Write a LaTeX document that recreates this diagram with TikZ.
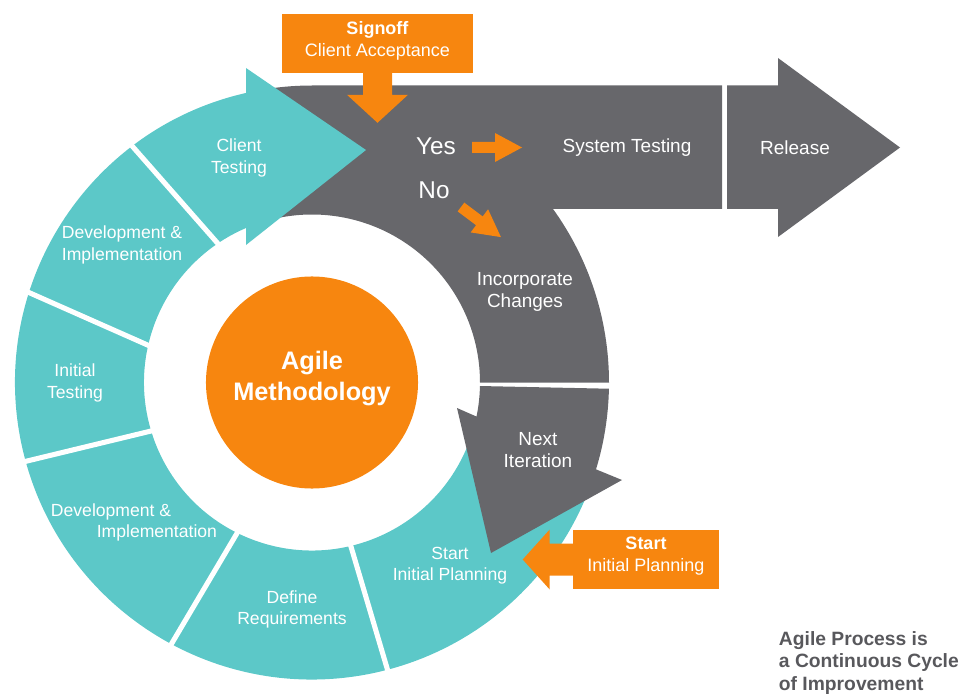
\documentclass[tikz,border=0pt]{standalone}
\usepackage{fontspec}
\setmainfont{Liberation Sans}
\usetikzlibrary{calc}
\definecolor{tealring}{HTML}{5CC8C8}
\definecolor{grayband}{HTML}{67676B}
\definecolor{agileorange}{HTML}{F7860F}
\definecolor{notegray}{HTML}{58585C}

\begin{document}
\begin{tikzpicture}[x=0.025cm,y=0.025cm,
  lbl/.style={text=white,align=center,font=\fontsize{12.5}{15}\selectfont},
  glbl/.style={text=white,align=center,font=\fontsize{13.5}{15.6}\selectfont},
  yesno/.style={text=white,font=\fontsize{17.3}{20}\selectfont},
  obox/.style={fill=agileorange,inner sep=0pt},
  oboxtext/.style={text=white,align=center,font=\fontsize{12.8}{15.6}\selectfont},
  sepline/.style={white,line width=3.6pt,shorten <=-8pt,shorten >=-8pt},
  smallarrow/.pic={\fill[agileorange] (0,-5.5) -- (23,-5.5) -- (23,-14.5) -- (50,0) -- (23,14.5) -- (23,5.5) -- (0,5.5) -- cycle;}]
\useasboundingbox (0,0) rectangle (963,-696);
\coordinate (c) at (312,-382.5);
% gray band: incorporate changes and system testing
\fill[grayband] ($(c)+(98:297)$) arc[start angle=98,end angle=90,radius=297] -- (722,-85.5) -- (722,-209)
  -- ($(c)+(35.75:297)$) arc[start angle=35.75,end angle=0,radius=297]
  -- ($(c)+(0:168)$) arc[start angle=0,end angle=101,radius=168] -- cycle;
% release
\fill[grayband] (727,-85.5) -- (778,-85.5) -- (778,-58) -- (900,-147.5) -- (778,-237) -- (778,-209) -- (727,-209) -- cycle;
% teal ring with client testing head
\fill[tealring] ($(c)+(102.8:297)$) arc[start angle=102.8,end angle=338,radius=297]
  -- ($(c)+(338:168)$) arc[start angle=338,end angle=113.1,radius=168]
  -- (246,-245) -- (366,-150) -- (246,-68) -- cycle;
\draw[sepline] (213,-238) -- (133,-147);
\draw[sepline] (143,-343) -- (30,-293);
\draw[sepline] (147,-432) -- (23,-462);
\draw[sepline] (233,-540) -- (172,-643);
\draw[sepline] (352,-550) -- (387,-668);
% next iteration
\fill[grayband] ($(c)+(-1.2:297)$) arc[start angle=-1.2,end angle=-17,radius=297]
  -- (622,-480) -- (491,-553) -- (457,-408)
  -- ($(c)+(-11.7:168)$) arc[start angle=-11.7,end angle=-1.2,radius=168] -- cycle;
% centre
\node[circle,fill=agileorange,minimum size=5.3cm] (agile) at (c) {};
\node[text=white,align=center,font=\bfseries\fontsize{18}{22.7}\selectfont] (agiletext) at ($(agile)+(0,4)$) {Agile\\Methodology};
% orange boxes
\node[obox,minimum width=4.775cm,minimum height=1.475cm] (signoff) at (377.5,-43.5) {};
\node[oboxtext] (signofftext) at ($(signoff)+(0,3)$) {\textbf{Signoff}\\Client Acceptance};
\fill[agileorange] (signoff.south) ++(-14.5,1) -- ++(0,-22.5) -- ++(-16,0) -- ++(30.5,-28) -- ++(30.5,28) -- ++(-16,0) -- ++(0,22.5) -- cycle;
\node[obox,minimum width=3.65cm,minimum height=1.475cm] (startbox) at (646,-559.5) {};
\node[oboxtext] (starttext) at ($(startbox)+(0,3.5)$) {\textbf{Start}\\Initial Planning};
\fill[agileorange] (startbox.west) ++(1,16) -- ++(-24,0) -- ++(0,14) -- ++(-27,-30) -- ++(27,-30) -- ++(0,14) -- ++(24,0) -- cycle;
% labels
\node[lbl] (ctest) at (239,-158) {Client\\Testing};
\node[lbl] (devup) at (122,-245) {Development \&\\Implementation};
\node[lbl] (itest) at (75,-383) {Initial\\Testing};
\node[lbl,align=left] (devlow) at (134,-522.5) {Development \&\\\hspace*{32.6pt}Implementation};
\node[lbl] (defreq) at (292,-609) {Define\\Requirements};
\node[lbl] (startip) at (450,-566) {Start\\Initial Planning};
\node[yesno] (yes) at (436,-146) {Yes};
\node[yesno] (no) at (434,-190) {No};
\pic at (472,-147.5) {smallarrow};
\pic[rotate=-37] at (461,-207) {smallarrow};
\node[glbl] (systest) at (627,-147.5) {System Testing};
\node[glbl] (release) at (795,-147.5) {Release};
\node[glbl] (incorp) at (525,-292) {Incorporate\\Changes};
\node[glbl] (nextit) at (538,-450) {Next\\Iteration};
\node[anchor=west,align=left,text=notegray,font=\bfseries\fontsize{13.7}{16}\selectfont] (note) at (774,-663)
  {Agile Process is\\a Continuous Cycle\\of Improvement};
\end{tikzpicture}
\end{document}
